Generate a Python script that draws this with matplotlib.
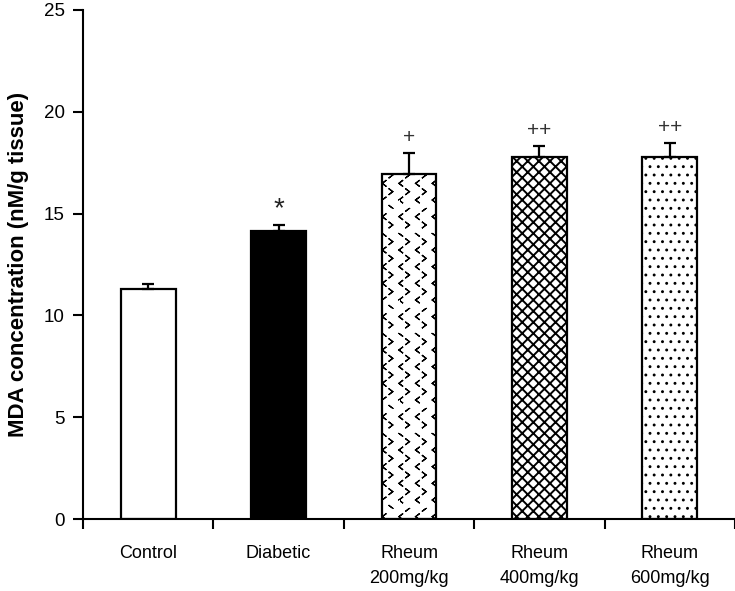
import matplotlib
matplotlib.use("Agg")
import matplotlib.pyplot as plt
import numpy as np
from matplotlib import hatch as mhatch
from matplotlib.path import Path

categories = ["Control", "Diabetic", "Rheum\n200mg/kg", "Rheum\n400mg/kg", "Rheum\n600mg/kg"]
means = [11.3, 14.13, 16.93, 17.8, 17.8]
errors = [0.25, 0.33, 1.06, 0.53, 0.68]
marks = ["", "*", "+", "++", "++"]
yticks = [0, 5, 10, 15, 20, 25]

facecolors = ["white", "black", "white", "white", "white"]
hatches = [None, None, "O", "xxx", ".."]
hatch_lws = [1.0, 1.0, 0.9, 1.4, 0.9]


class Chevrons(mhatch.HatchPatternBase):
    """Staggered rows of '<' and '>' marks (responds to 'O')."""
    def __init__(self, hatch, density):
        self.n = hatch.count('O') * density
        if self.n:
            self.num_marks = (self.n + 1) ** 2 + self.n ** 2
            self.num_vertices = self.num_marks * 5
        else:
            self.num_marks = 0
            self.num_vertices = 0

    def set_vertices_and_codes(self, vertices, codes):
        n = self.n
        w = 0.13 / n
        h = 0.20 / n
        k = 0
        pts = []
        for i in range(n + 1):
            for j in range(n + 1):
                cx, cy = j / n, i / n
                pts.append(((cx + w / 2, cy + h / 2), (cx - w / 2, cy), (cx + w / 2, cy - h / 2)))
        for i in range(n):
            for j in range(n):
                cx, cy = (j + 0.5) / n, (i + 0.5) / n
                pts.append(((cx - w / 2, cy + h / 2), (cx + w / 2, cy), (cx - w / 2, cy - h / 2)))
        for p0, p1, p2 in pts:
            vertices[k:k + 5] = [p0, p1, p2, p1, p0]
            codes[k:k + 5] = [Path.MOVETO, Path.LINETO, Path.LINETO, Path.LINETO, Path.CLOSEPOLY]
            k += 5


mhatch._hatch_types = [t for t in mhatch._hatch_types if t is not mhatch.LargeCircles] + [Chevrons]

plt.rcParams['font.family'] = ['Liberation Sans', 'DejaVu Sans']
plt.rcParams['hatch.linewidth'] = 1.4

fig = plt.figure(figsize=(7.35, 5.91), dpi=100)
ax = fig.add_axes([83/735, 72/591, 652/735, 509/591])

x = np.arange(len(categories))
bars = ax.bar(x, means, width=0.42, color=facecolors, edgecolor="black",
              linewidth=1.6, zorder=2)
for b, h, lw in zip(bars, hatches, hatch_lws):
    if h:
        b.set_hatch(h)
        if hasattr(b, "set_hatch_linewidth"):
            b.set_hatch_linewidth(lw)
ax.errorbar(x, means, yerr=[np.zeros(len(means)), errors], fmt="none",
            ecolor="black", elinewidth=1.6, capsize=4.5, capthick=1.6, zorder=3)

for xi, m, e, t in zip(x, means, errors, marks):
    if t == "*":
        ax.text(xi, m + e + 0.4, t, ha="center", va="baseline",
                fontsize=20, color="#222222")
    elif t:
        ax.text(xi, m + e + 0.5, t, ha="center", va="baseline",
                fontsize=15, color="#333333")

ax.set_xlim(-0.5, len(categories) - 0.5)
ax.set_ylim(0, 25)
ax.set_yticks(yticks)
ax.set_yticklabels([str(v) for v in yticks], fontsize=13.5)
ax.tick_params(axis="y", direction="out", length=7, width=1.5, pad=6)

ax.set_xticks(np.arange(len(categories) + 1) - 0.5)
ax.set_xticklabels([])
ax.tick_params(axis="x", which="major", direction="out", length=7, width=1.5)
ax.set_xticks(x, minor=True)
ax.set_xticklabels(categories, minor=True, fontsize=13, linespacing=1.6, va="top")
ax.tick_params(axis="x", which="minor", length=0, pad=19)

ax.set_ylabel("MDA concentration (nM/g tissue)", fontsize=16, fontweight="bold",
              labelpad=11)

for s in ["top", "right"]:
    ax.spines[s].set_visible(False)
for s in ["left", "bottom"]:
    ax.spines[s].set_linewidth(1.5)

fig.savefig("out.png", dpi=100)
